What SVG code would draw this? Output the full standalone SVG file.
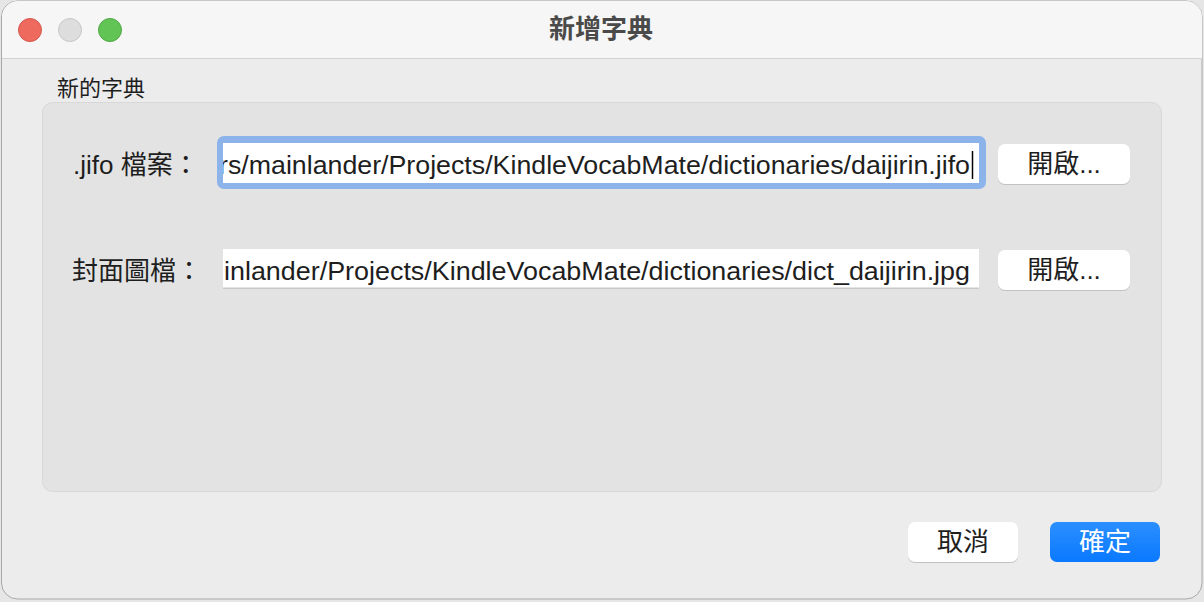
<svg xmlns="http://www.w3.org/2000/svg" width="1204" height="602" viewBox="0 0 1204 602">
<style>
.ui{font-family:"Liberation Sans","Noto Sans CJK TC",sans-serif;fill:#1e1e1e}
.cjk{font-family:"Noto Sans CJK TC","Liberation Sans",sans-serif}
.btn{fill:#ffffff}
.btnsh{fill:#c2c2c2}
</style>
<defs>
<linearGradient id="blue" x1="0" y1="0" x2="0" y2="1">
<stop offset="0" stop-color="#2b8fff"/>
<stop offset="1" stop-color="#0a79ff"/>
</linearGradient>
<clipPath id="clip1"><rect x="223" y="143" width="756" height="40"/></clipPath>
<clipPath id="clip2"><rect x="223" y="249" width="756" height="39"/></clipPath>
</defs>
<rect id="backdrop" x="0" y="0" width="1204" height="602" fill="#e6e6e6"/>
<g id="window">
<rect x="1.5" y="1" width="1200.5" height="598" rx="16" fill="#ececec" stroke="#a8a8a8" stroke-width="1"/>
<path d="M2 58 V17 A16 16 0 0 1 18 1 H1186 A16 16 0 0 1 1202 17 V58 Z" fill="#f6f6f6"/>
<line x1="2" y1="58.5" x2="1202" y2="58.5" stroke="#d2d2d2" stroke-width="1"/>
</g>
<g id="traffic-lights">
<circle cx="30" cy="30" r="11.5" fill="#ee6a5f" stroke="#d4574d" stroke-width="1"/>
<circle cx="70" cy="30" r="11.5" fill="#dddddd" stroke="#c6c6c6" stroke-width="1"/>
<circle cx="110" cy="30" r="11.5" fill="#61c454" stroke="#50a844" stroke-width="1"/>
</g>
<g id="title">
<text class="cjk" x="601" y="38" font-size="26" font-weight="bold" fill="#4a4a4a" text-anchor="middle">新增字典</text>
</g>
<g id="group-box">
<text class="cjk" x="57" y="96" font-size="22" fill="#1e1e1e">新的字典</text>
<rect x="42.5" y="102.5" width="1119" height="389" rx="10" fill="#e3e3e3" stroke="#d8d8d8" stroke-width="1"/>
</g>
<g id="row-jifo">
<text class="ui" x="73" y="174" font-size="26">.jifo 檔案：</text>
<rect x="217" y="136" width="769" height="53" rx="7" fill="#8cb3ea"/>
<rect x="223" y="143" width="756" height="40" fill="#ffffff"/>
<g clip-path="url(#clip1)">
<text class="ui" x="219" y="174" font-size="26" textLength="751" lengthAdjust="spacingAndGlyphs" fill="#111">rs/mainlander/Projects/KindleVocabMate/dictionaries/daijirin.jifo</text>
</g>
<line x1="972.5" y1="151" x2="972.5" y2="179" stroke="#000" stroke-width="1.5"/>
</g>
<g id="btn-open-1">
<rect class="btnsh" x="998" y="145" width="132" height="40" rx="7"/>
<rect class="btn" x="998" y="144" width="132" height="40" rx="7"/>
<text class="ui" x="1064" y="173" font-size="26" text-anchor="middle">開啟...</text>
</g>
<g id="row-cover">
<text class="ui" x="72" y="280" font-size="26">封面圖檔：</text>
<rect x="223" y="249.5" width="756" height="39.5" fill="#c8c8c8"/>
<rect x="223" y="249" width="756" height="38.5" fill="#ffffff"/>
<g clip-path="url(#clip2)">
<text class="ui" x="224" y="280" font-size="26" textLength="746" lengthAdjust="spacingAndGlyphs" fill="#111">inlander/Projects/KindleVocabMate/dictionaries/dict_daijirin.jpg</text>
</g>
</g>
<g id="btn-open-2">
<rect class="btnsh" x="998" y="251" width="132" height="40" rx="7"/>
<rect class="btn" x="998" y="250" width="132" height="40" rx="7"/>
<text class="ui" x="1064" y="279" font-size="26" text-anchor="middle">開啟...</text>
</g>
<g id="btn-cancel">
<rect class="btnsh" x="908" y="523" width="110" height="40" rx="7"/>
<rect class="btn" x="908" y="522" width="110" height="40" rx="7"/>
<text class="cjk" x="963" y="551" font-size="26" text-anchor="middle" fill="#1e1e1e">取消</text>
</g>
<g id="btn-ok">
<rect x="1050" y="522" width="110" height="40" rx="7" fill="url(#blue)"/>
<text class="cjk" x="1105" y="551" font-size="26" text-anchor="middle" fill="#ffffff">確定</text>
</g>
</svg>
